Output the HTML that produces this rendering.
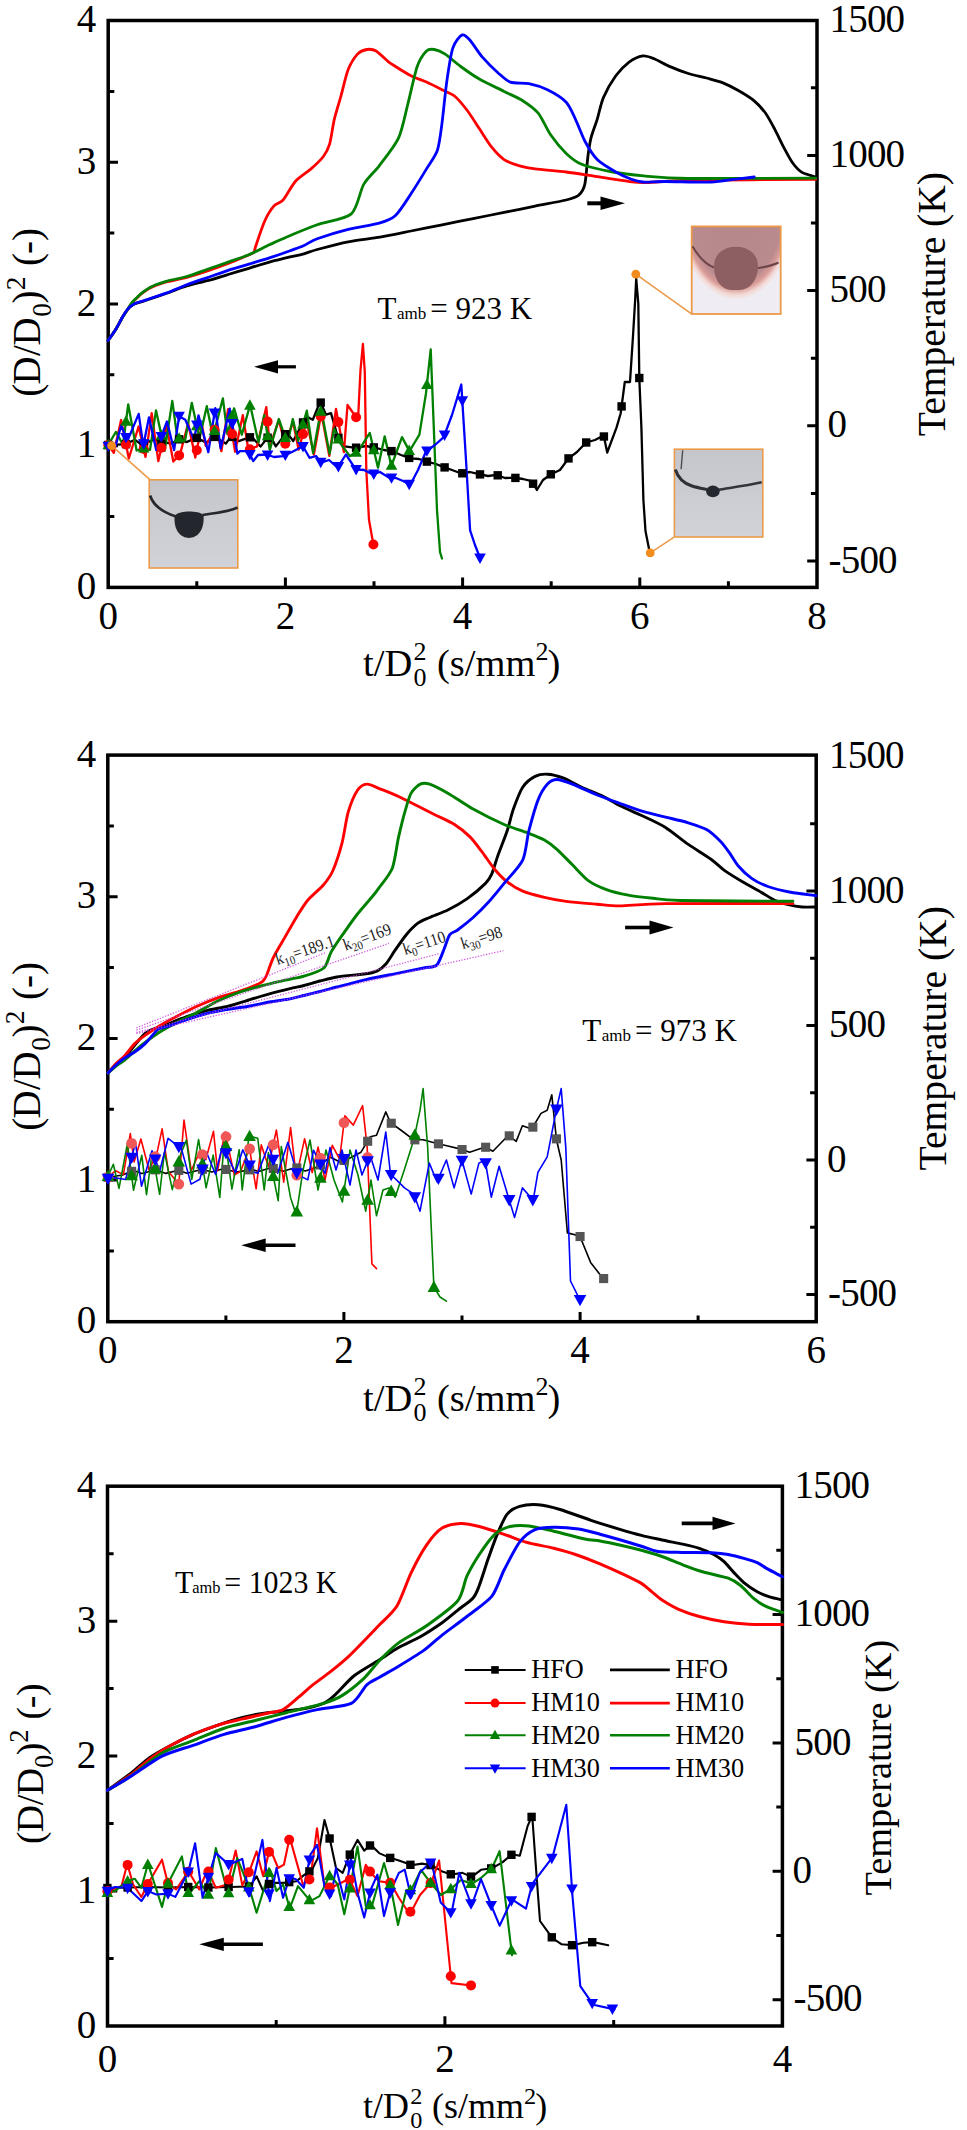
<!DOCTYPE html>
<html><head><meta charset="utf-8"><style>html,body{margin:0;padding:0;background:#fff;overflow:hidden}svg{display:block}</style></head><body>
<svg width="967" height="2130" viewBox="0 0 967 2130" font-family='"Liberation Serif", serif'>
<rect width="967" height="2130" fill="#fff"/>
<defs><linearGradient id="gg" x1="0" y1="0" x2="0" y2="1"><stop offset="0" stop-color="#c5c6cc"/><stop offset="1" stop-color="#d1d3d9"/></linearGradient><radialGradient id="pr" gradientUnits="userSpaceOnUse" cx="0" cy="0" r="1" gradientTransform="translate(736 205) scale(60 95)"><stop offset="0" stop-color="#b4878b"/><stop offset="0.8" stop-color="#b98a8e"/><stop offset="0.885" stop-color="#d99c98"/><stop offset="0.945" stop-color="#f3d8d4"/><stop offset="1" stop-color="#efedf3"/></radialGradient></defs>
<g stroke="#000" fill="none">
<rect x="108.2" y="20.5" width="708.8" height="566.9" stroke-width="3.5"/>
<path d="M108.2 516.5h6.1 M108.2 445.7h9.8 M108.2 374.8h6.1 M108.2 303.9h9.8 M108.2 233.1h6.1 M108.2 162.2h9.8 M108.2 91.4h6.1 M196.8 587.4v-6.1 M285.4 587.4v-9.8 M374 587.4v-6.1 M462.6 587.4v-9.8 M551.2 587.4v-6.1 M639.8 587.4v-9.8 M728.4 587.4v-6.1 M817 561h-9.8 M817 493.4h-6.1 M817 425.8h-9.8 M817 358.2h-6.1 M817 290.6h-9.8 M817 223h-6.1 M817 155.4h-9.8 M817 87.8h-6.1" stroke-width="3"/>
</g>
<text x="96.3" y="599" font-size="39" text-anchor="end" >0</text>
<text x="96.3" y="457.3" font-size="39" text-anchor="end" >1</text>
<text x="96.3" y="315.6" font-size="39" text-anchor="end" >2</text>
<text x="96.3" y="173.8" font-size="39" text-anchor="end" >3</text>
<text x="96.3" y="32.1" font-size="39" text-anchor="end" >4</text>
<text x="108.2" y="629.1" font-size="39" text-anchor="middle" >0</text>
<text x="285.4" y="629.1" font-size="39" text-anchor="middle" >2</text>
<text x="462.6" y="629.1" font-size="39" text-anchor="middle" >4</text>
<text x="639.8" y="629.1" font-size="39" text-anchor="middle" >6</text>
<text x="817" y="629.1" font-size="39" text-anchor="middle" >8</text>
<text x="829.5" y="31.8" font-size="39" text-anchor="start" letter-spacing="-0.8">1500</text>
<text x="829.5" y="167" font-size="39" text-anchor="start" letter-spacing="-0.8">1000</text>
<text x="829.5" y="302.2" font-size="39" text-anchor="start" letter-spacing="-0.8">500</text>
<text x="827.5" y="437.4" font-size="39" text-anchor="start" letter-spacing="-0.8">0</text>
<text x="828.5" y="572.6" font-size="39" text-anchor="start" letter-spacing="-0.8">-500</text>
<g transform="translate(40.2 395.7) rotate(-90)" font-size="39" text-anchor="middle">
<text x="5.5" y="0">(</text>
<text x="25.4" y="0">D</text>
<text x="45.2" y="0">/</text>
<text x="64.3" y="0">D</text>
<text x="85.8" y="10.3" font-size="27.3">0</text>
<text x="98.7" y="0">)</text>
<text x="112.4" y="-15.5" font-size="27.3">2</text>
<text x="136.3" y="0">(</text>
<text x="148.3" y="0">-</text>
<text x="161.2" y="0">)</text>
</g>
<text transform="translate(944.7 436.2) rotate(-90)" font-size="39.6">Temperature (K)</text>
<g transform="translate(363 676.4) scale(1 1)" font-size="38.5"><text x="0" y="0">t/D</text><text x="50.5" y="10" font-size="26">0</text><text x="50.5" y="-16" font-size="26">2</text><text x="74" y="0">(s/mm</text><text x="172.5" y="-16" font-size="26">2</text><text x="184.5" y="0">)</text></g>
<g stroke="#000" fill="none">
<rect x="107.8" y="755.1" width="708.4" height="566.6" stroke-width="3.5"/>
<path d="M107.8 1250.9h6.1 M107.8 1180h9.8 M107.8 1109.2h6.1 M107.8 1038.4h9.8 M107.8 967.6h6.1 M107.8 896.8h9.8 M107.8 825.9h6.1 M225.9 1321.7v-6.1 M343.9 1321.7v-9.8 M462 1321.7v-6.1 M580.1 1321.7v-9.8 M698.1 1321.7v-6.1 M816.2 1294.4h-9.8 M816.2 1227.2h-6.1 M816.2 1159.9h-9.8 M816.2 1092.7h-6.1 M816.2 1025.4h-9.8 M816.2 958.2h-6.1 M816.2 890.9h-9.8 M816.2 823.7h-6.1" stroke-width="3"/>
</g>
<text x="96.3" y="1333.3" font-size="39" text-anchor="end" >0</text>
<text x="96.3" y="1191.6" font-size="39" text-anchor="end" >1</text>
<text x="96.3" y="1050" font-size="39" text-anchor="end" >2</text>
<text x="96.3" y="908.4" font-size="39" text-anchor="end" >3</text>
<text x="96.3" y="766.7" font-size="39" text-anchor="end" >4</text>
<text x="107.8" y="1363.4" font-size="39" text-anchor="middle" >0</text>
<text x="343.9" y="1363.4" font-size="39" text-anchor="middle" >2</text>
<text x="580.1" y="1363.4" font-size="39" text-anchor="middle" >4</text>
<text x="816.2" y="1363.4" font-size="39" text-anchor="middle" >6</text>
<text x="829" y="768" font-size="39" text-anchor="start" letter-spacing="-0.8">1500</text>
<text x="829" y="902.5" font-size="39" text-anchor="start" letter-spacing="-0.8">1000</text>
<text x="829" y="1037" font-size="39" text-anchor="start" letter-spacing="-0.8">500</text>
<text x="827" y="1171.5" font-size="39" text-anchor="start" letter-spacing="-0.8">0</text>
<text x="828" y="1306" font-size="39" text-anchor="start" letter-spacing="-0.8">-500</text>
<g transform="translate(39.9 1129.8) rotate(-90)" font-size="39" text-anchor="middle">
<text x="5.5" y="0">(</text>
<text x="25.4" y="0">D</text>
<text x="45.2" y="0">/</text>
<text x="64.3" y="0">D</text>
<text x="85.8" y="10.3" font-size="27.3">0</text>
<text x="98.7" y="0">)</text>
<text x="112.4" y="-15.5" font-size="27.3">2</text>
<text x="136.3" y="0">(</text>
<text x="148.3" y="0">-</text>
<text x="161.2" y="0">)</text>
</g>
<text transform="translate(946.2 1170.4) rotate(-90)" font-size="39.6">Temperature (K)</text>
<g transform="translate(363 1410.7) scale(1 1)" font-size="38.5"><text x="0" y="0">t/D</text><text x="50.5" y="10" font-size="26">0</text><text x="50.5" y="-16" font-size="26">2</text><text x="74" y="0">(s/mm</text><text x="172.5" y="-16" font-size="26">2</text><text x="184.5" y="0">)</text></g>
<g stroke="#000" fill="none">
<rect x="107.5" y="1486.2" width="674.9" height="539.8" stroke-width="3.5"/>
<path d="M107.5 1958.5h6.1 M107.5 1891h9.8 M107.5 1823.6h6.1 M107.5 1756.1h9.8 M107.5 1688.6h6.1 M107.5 1621.2h9.8 M107.5 1553.7h6.1 M276.2 2026v-6.1 M444.9 2026v-9.8 M613.7 2026v-6.1 M782.4 1999.7h-9.8 M782.4 1935.5h-6.1 M782.4 1871.3h-9.8 M782.4 1807.1h-6.1 M782.4 1742.9h-9.8 M782.4 1678.7h-6.1 M782.4 1614.5h-9.8 M782.4 1550.3h-6.1" stroke-width="3"/>
</g>
<text x="96.3" y="2037.6" font-size="39" text-anchor="end" >0</text>
<text x="96.3" y="1902.6" font-size="39" text-anchor="end" >1</text>
<text x="96.3" y="1767.7" font-size="39" text-anchor="end" >2</text>
<text x="96.3" y="1632.8" font-size="39" text-anchor="end" >3</text>
<text x="96.3" y="1497.8" font-size="39" text-anchor="end" >4</text>
<text x="107.5" y="2072.3" font-size="39" text-anchor="middle" >0</text>
<text x="444.9" y="2072.3" font-size="39" text-anchor="middle" >2</text>
<text x="782.4" y="2072.3" font-size="39" text-anchor="middle" >4</text>
<text x="794.5" y="1497.7" font-size="39" text-anchor="start" letter-spacing="-0.8">1500</text>
<text x="794.5" y="1626.1" font-size="39" text-anchor="start" letter-spacing="-0.8">1000</text>
<text x="794.5" y="1754.5" font-size="39" text-anchor="start" letter-spacing="-0.8">500</text>
<text x="792.5" y="1882.9" font-size="39" text-anchor="start" letter-spacing="-0.8">0</text>
<text x="793.5" y="2011.3" font-size="39" text-anchor="start" letter-spacing="-0.8">-500</text>
<g transform="translate(43.3 1842.8) rotate(-90)" font-size="37.8" text-anchor="middle">
<text x="5.2" y="0">(</text>
<text x="24.1" y="0">D</text>
<text x="42.9" y="0">/</text>
<text x="61.1" y="0">D</text>
<text x="81.5" y="10" font-size="26.5">0</text>
<text x="93.8" y="0">)</text>
<text x="106.8" y="-15" font-size="26.5">2</text>
<text x="129.5" y="0">(</text>
<text x="140.9" y="0">-</text>
<text x="153.1" y="0">)</text>
</g>
<text transform="translate(890.7 1895.5) rotate(-90)" font-size="38.3">Temperature (K)</text>
<g transform="translate(363 2118.4) scale(0.934 0.925)" font-size="38.5"><text x="0" y="0">t/D</text><text x="50.5" y="10" font-size="26">0</text><text x="50.5" y="-16" font-size="26">2</text><text x="74" y="0">(s/mm</text><text x="172.5" y="-16" font-size="26">2</text><text x="184.5" y="0">)</text></g>
<path d="M108.1 340.5C109.2 339 114.1 332 116 329C117.9 326 120.7 320.3 122 318C123.3 315.7 124.9 313 126 311.5C127.1 310 128.8 307.8 130 306.8C131.2 305.8 133.7 304.4 135 303.8C136.3 303.2 138.6 302.6 140 302.2C141.4 301.8 141.9 301.7 145.4 300.5C148.9 299.3 160.6 295.4 166.1 293.5C171.6 291.6 181.2 287.7 186.7 286C192.2 284.3 201.9 282.2 207.4 280.7C212.9 279.2 222.6 276.2 228.1 274.5C233.6 272.8 243.3 270 248.8 268.3C254.3 266.6 263.9 263.6 269.4 262.1C274.9 260.6 285.5 258 290.1 256.9C294.7 255.8 300.4 254.8 304 253.8C307.6 252.8 311.3 251.1 317.2 249.5C323.1 247.9 339.8 243.4 348.2 241.8C356.6 240.2 371.6 238.6 380 237.2C388.4 235.8 402.7 232.7 411 231C419.3 229.3 433.8 226.5 442.1 224.8C450.4 223.1 464.8 220.3 473.1 218.6C481.4 216.9 495.8 214.1 504.1 212.4C512.4 210.7 526.8 207.9 535.1 206.2C543.4 204.5 560.4 201.5 566.2 200C572 198.5 576.1 197.4 578.6 195.3C581.1 193.2 583.6 189.6 584.8 184.4C586 179.2 587.1 162.7 587.9 156.5C588.7 150.3 589.8 142.9 591 137.9C592.2 132.9 595.5 124.7 597.2 119.3C598.9 113.9 600.9 103.4 603.4 97.6C605.9 91.8 612.4 80.5 615.8 75.8C619.2 71.1 625.5 64.8 629.1 62.1C632.7 59.4 639.5 56.4 642.8 55.9C646.1 55.4 650.5 57.3 654.1 58.7C657.7 60.1 665.5 64.6 670.1 66.6C674.7 68.6 683.4 72 688.3 73.5C693.2 75 702 76.8 706.5 78C711 79.2 718.2 80.9 722.4 82.6C726.6 84.3 734.1 88.1 738.3 90.5C742.5 92.9 750.6 97.8 754.2 100.8C757.8 103.8 762.9 109.5 765.6 113.3C768.3 117.1 772.3 124.7 774.7 129.2C777.1 133.7 781.4 142.9 783.8 147.4C786.2 151.9 790.5 160 792.9 163.3C795.3 166.6 799 170.6 802 172.4C805 174.2 813.9 176.4 815.7 177" fill="none" stroke="#000" stroke-width="2.8" stroke-linejoin="round" stroke-linecap="round"/>
<path d="M108.1 340.5C109.2 339 114.1 332 116 329C117.9 326 120.7 320.3 122 318C123.3 315.7 125 313.5 126 312C127 310.5 128.6 307.9 129.5 306.5C130.4 305.1 132 303 133 301.8C134 300.6 136 298.8 137.1 297.8C138.2 296.8 139.9 294.9 141 294C142.1 293.1 144.2 291.6 145.4 290.8C146.6 290 148.6 288.7 150 288C151.4 287.3 153.6 286.3 155.7 285.5C157.8 284.7 162 283.1 166.1 282C170.2 280.9 181.2 279 186.7 277.5C192.2 276 201.9 272.9 207.4 271C212.9 269.1 223.1 265.4 228.1 263.5C233.1 261.6 241.6 258 245 256.5C248.4 255 252.2 253.8 253.6 252.5C255 251.2 254.2 250.6 255.6 246.5C257 242.4 262 227.1 264.4 221.7C266.8 216.3 271.3 209.1 273.8 206.2C276.3 203.3 280.2 203.3 283.1 200C286 196.7 291.8 185.4 295.5 181.3C299.2 177.2 307.3 172.2 311 168.9C314.7 165.6 320.9 159.8 323.4 156.5C325.9 153.2 328.1 149.1 329.6 144.1C331.1 139.1 332.8 125.5 334.3 119.3C335.8 113.1 338.6 104.2 340.5 97.6C342.4 91 345.9 75.4 348.2 69.6C350.5 63.8 355 56.8 357.5 54.1C360 51.4 364.3 49.9 366.8 49.5C369.3 49.1 373.2 49.3 376.1 51C379 52.7 385.9 59.8 388.5 61.9C391.1 64 392.5 64.6 395.5 66.5C398.5 68.4 406.9 73.7 411 75.8C415.1 77.9 422.4 80.2 426.5 82.1C430.6 84 438.3 87.9 442 89.8C445.7 91.7 451.2 93.3 454.5 96C457.8 98.7 463.6 105.7 466.9 110C470.2 114.3 476 123.6 479.3 128.6C482.6 133.6 488.4 143.1 491.7 147.2C495 151.3 500.4 157.1 504.1 159.6C507.8 162.1 515.5 164.6 519.6 165.8C523.7 167 528.9 168.1 535.1 168.9C541.3 169.7 557.9 171 566.2 172C574.5 173 588.9 175.5 597.2 176.7C605.5 177.9 622 180.5 628.2 181.3C634.4 182.1 635.7 182.8 643.7 182.7C651.7 182.6 665.4 180.9 688.3 180.4C711.2 179.9 798.7 179.4 815.7 179.3" fill="none" stroke="#f00" stroke-width="2.8" stroke-linejoin="round" stroke-linecap="round"/>
<path d="M108.1 340.5C109.2 339 114.1 332 116 329C117.9 326 120.7 320.3 122 318C123.3 315.7 125 313.6 126 312C127 310.4 128.6 307.7 129.5 306.3C130.4 304.9 132 302.7 133 301.5C134 300.3 136 298.5 137.1 297.4C138.2 296.3 139.9 294.5 141 293.6C142.1 292.7 144.2 291.1 145.4 290.3C146.6 289.5 148.6 288.2 150 287.5C151.4 286.8 153.6 285.6 155.7 284.8C157.8 284 162 282.4 166.1 281.3C170.2 280.2 181.2 278.1 186.7 276.5C192.2 274.9 201.9 271.2 207.4 269.3C212.9 267.4 222.6 264 228.1 262.1C233.6 260.2 243.3 257.1 248.8 254.8C254.3 252.5 264.4 247.1 269.4 244.8C274.4 242.5 279.8 239.9 286.2 237.2C292.6 234.5 308.5 227.9 317.2 224.8C325.9 221.7 345.1 219.3 351.3 213.9C357.5 208.5 360 190.8 363.7 184.4C367.4 178 374.5 172 379.2 165.8C383.9 159.6 394.8 146.2 398.6 137.9C402.4 129.6 405.4 113.3 407.9 103.8C410.4 94.3 414.7 73.5 417.2 66.5C419.7 59.5 424.2 53.3 426.5 51C428.8 48.7 431.8 49.1 434.3 49.5C436.8 49.9 441.7 51.8 445.2 54.1C448.7 56.4 456.2 63.2 460.7 66.5C465.2 69.8 473.5 75.7 479.3 79C485.1 82.3 498.3 88.5 504.1 91.4C509.9 94.3 518.2 97.8 522.7 100.7C527.2 103.6 534.5 108.6 538.2 113.1C541.9 117.6 546.9 129.4 550.6 134.8C554.3 140.2 562.1 149.5 566.2 153.4C570.3 157.3 575.5 161.8 581.7 164.3C587.9 166.8 604.4 170.5 612.7 172C621 173.5 633.6 175 643.7 175.9C653.8 176.8 665.4 178.2 688.3 178.5C711.2 178.8 798.7 178.2 815.7 178.1" fill="none" stroke="#008000" stroke-width="2.8" stroke-linejoin="round" stroke-linecap="round"/>
<path d="M108.1 340.5C109.2 339 114.1 332 116 329C117.9 326 120.7 320.3 122 318C123.3 315.7 124.9 313 126 311.5C127.1 310 128.8 307.9 130 306.8C131.2 305.7 133.7 304.3 135 303.6C136.3 302.9 138.6 302.3 140 301.8C141.4 301.3 141.9 301.3 145.4 300.1C148.9 298.9 160.6 295.1 166.1 293.1C171.6 291.1 181.2 286.9 186.7 284.8C192.2 282.7 201.9 279.5 207.4 277.6C212.9 275.7 222.6 272.1 228.1 270.3C233.6 268.5 243.3 265.8 248.8 264.1C254.3 262.4 263.9 259.7 269.4 257.9C274.9 256.1 285.5 252.4 290.1 250.7C294.7 249 300.4 247.1 304 245.5C307.6 243.9 311.3 240.8 317.2 238.7C323.1 236.6 339.9 231.5 348.2 229.4C356.5 227.3 372.9 225.1 379.2 223.2C385.5 221.3 391.3 219.4 395.5 215.5C399.7 211.6 406.9 200 411 193.8C415.1 187.6 423 174.7 426.5 168.9C430 163.1 435.3 156.5 437.4 150.3C439.5 144.1 440.9 131.5 442.1 122.4C443.3 113.3 445.3 92 446.7 82.1C448.1 72.2 450.8 54.2 452.9 47.9C455 41.6 459.9 35.9 462.2 34.9C464.5 33.9 467.3 37.2 470 40.2C472.7 43.2 478.7 52.9 482.4 57.2C486.1 61.5 494.2 69.4 497.9 72.7C501.6 76 506.2 80.6 510.3 82.1C514.4 83.6 523.9 82.6 528.9 83.6C533.9 84.6 542.5 87.3 547.5 89.8C552.5 92.3 562.5 98.3 566.2 102.2C569.9 106.1 573 114.1 575.5 119.3C578 124.5 581.9 135.6 584.8 141C587.7 146.4 593.1 155.5 597.2 159.6C601.3 163.7 611.2 169.4 615.8 172C620.4 174.6 627.8 178 631.4 179.3C635 180.6 638.3 181.7 642.8 182C647.3 182.3 656.4 181.5 665.5 181.5C674.6 181.5 701.9 182.3 711 182C720.1 181.7 728 180 733.8 179.3C739.6 178.6 751.5 177.3 754.2 177" fill="none" stroke="#00f" stroke-width="2.8" stroke-linejoin="round" stroke-linecap="round"/>
<path d="M108 1073C109.1 1071.9 113.8 1067 116 1065C118.2 1063 120.8 1062.2 124.7 1057.9C128.6 1053.6 139.9 1037.5 145.4 1033.1C150.9 1028.7 160.5 1027 166 1024.8C171.5 1022.6 181.2 1018.4 186.7 1016.5C192.2 1014.6 201.9 1011.7 207.4 1010.3C212.9 1008.9 222.6 1007.6 228.1 1006.2C233.6 1004.8 243.3 1001.7 248.8 1000C254.3 998.3 264 995.3 269.5 993.8C275 992.3 285.5 989.7 290.1 988.6C294.7 987.5 300 986.5 304 985.5C308 984.5 315.6 982.1 320 981C324.4 979.9 330.8 978 336.9 977C343 976 360.4 974.6 365.8 973.8C371.2 973 374.7 972.2 377.4 970.9C380.1 969.6 383.8 966.4 386.1 963.7C388.4 961 392.1 954.6 394.8 950.7C397.5 946.8 403.2 938.4 406.3 934.7C409.4 931 414.8 925.5 417.9 923.2C421 920.9 425.5 919.3 429.6 917.5C433.7 915.7 443.3 912.3 448.3 909.8C453.3 907.3 461.9 902.4 466.9 898.9C471.9 895.4 482.2 886.7 485.5 883.4C488.8 880.1 490 877.8 491.7 874.1C493.4 870.4 495.8 861.3 497.9 855.5C500 849.7 505.1 836.9 507.2 830.7C509.3 824.5 511.3 814.8 513.4 809C515.5 803.2 519.8 791.5 522.7 787.2C525.6 782.9 531.8 778.1 535.1 776.4C538.4 774.7 543.8 774 547.5 774.2C551.2 774.4 558.5 776.2 563.1 777.9C567.7 779.6 576.3 784.7 581.7 787.2C587.1 789.7 598.3 794 603.4 796.5C608.5 799 614.7 803.1 620 805.7C625.3 808.3 636.7 813.1 642.8 816C648.9 818.9 659.4 823.6 665.5 827.4C671.6 831.2 682.2 840.2 688.3 844.4C694.4 848.6 706.1 855.7 711 859.2C715.9 862.7 720.4 867.6 724.7 870.6C729 873.6 738 879.1 742.9 882C747.8 884.9 756.9 889.8 761.1 892.2C765.3 894.6 771.1 898.5 774.7 900.2C778.3 901.9 784.8 903.8 788.4 904.7C792 905.6 798.3 906.7 802 907C805.7 907.3 814.1 907 816 907" fill="none" stroke="#000" stroke-width="2.9" stroke-linejoin="round" stroke-linecap="round"/>
<path d="M108 1073C109.1 1071.7 113.8 1065.8 116 1063.5C118.2 1061.2 122.2 1058.5 124.7 1055.8C127.2 1053.1 132.2 1046.2 135 1043.4C137.8 1040.6 142.1 1037.4 145.4 1035.1C148.7 1032.8 155.7 1028.3 159.8 1025.8C163.9 1023.3 171.4 1019.1 176.4 1016.5C181.4 1013.9 191.6 1008.7 197.1 1006.2C202.6 1003.7 212.3 999.8 217.8 997.9C223.3 996 233.3 993.4 238.4 991.7C243.5 990 252.8 986.4 256 985C259.2 983.6 261.1 982.8 262.5 981.5C263.9 980.2 265.1 978.6 266.5 975.5C267.9 972.4 270.8 963 273.2 957.9C275.6 952.8 281.6 943 284.7 937.6C287.8 932.2 293.2 922.4 296.3 917.4C299.4 912.4 304.3 904.3 307.9 900C311.5 895.7 320.1 888.9 323.4 885C326.7 881.1 330.2 876.6 332.7 871C335.2 865.4 339.9 851 342 843.1C344.1 835.2 346.1 819.1 348.2 812.1C350.3 805.1 355 794 357.5 790.3C360 786.6 363.8 784.3 366.8 784.1C369.8 783.9 375.8 787.1 380 788.8C384.2 790.5 393.6 794.2 398.6 796.5C403.6 798.8 412.2 803.3 417.2 805.8C422.2 808.3 430.8 812.7 435.8 815.2C440.8 817.7 449.9 821.6 454.5 824.5C459.1 827.4 466.3 833.2 470 836.9C473.7 840.6 479.1 848.1 482.4 852.4C485.7 856.7 491.5 865.6 494.8 869.5C498.1 873.4 503.5 879 507.2 881.9C510.9 884.8 517.7 889.1 522.7 891.2C527.7 893.3 538.6 896 544.4 897.4C550.2 898.8 559.2 900.5 566.2 901.4C573.2 902.3 590 903.6 597.2 904.2C604.4 904.8 610.9 906 620 905.9C629.1 905.8 642.4 903.9 665.5 903.6C688.6 903.3 775.9 903.6 792.9 903.6" fill="none" stroke="#f00" stroke-width="2.9" stroke-linejoin="round" stroke-linecap="round"/>
<path d="M108 1073C109.1 1072.1 113.8 1067.7 116 1066C118.2 1064.3 121.3 1062.7 124.7 1060C128.1 1057.3 136.5 1049.2 141.2 1045.5C145.9 1041.8 155.1 1035 159.8 1032C164.5 1029 171.4 1025.3 176.4 1022.7C181.4 1020.1 191.6 1015.3 197.1 1012.4C202.6 1009.5 212.3 1003.6 217.8 1001C223.3 998.4 232.9 994.6 238.4 992.7C243.9 990.8 253.6 988 259.1 986.5C264.6 985 273.8 982.8 279.8 981.4C285.8 980 298.1 978 304 976.2C309.9 974.4 320.2 971.2 323.8 968C327.4 964.8 328.6 956.5 331.1 952.1C333.6 947.7 339.1 939.7 342.6 934.7C346.1 929.7 353 919.7 357.1 914.5C361.2 909.3 369.9 899.5 373 895.8C376.1 892.1 377.4 890.2 380 886.5C382.6 882.8 389.9 874.5 392.4 867.9C394.9 861.3 396.9 844.3 398.6 836.9C400.3 829.5 403.1 817.9 404.8 812.1C406.5 806.3 408.9 797.1 411 793.4C413.1 789.7 417.8 785.3 420.3 784.1C422.8 782.9 425.9 782.9 429.6 784.1C433.3 785.3 442.5 790.1 448.3 793.4C454.1 796.7 465.7 804.9 473.1 809C480.5 813.1 497.1 821.4 504.1 824.5C511.1 827.6 520.4 830.1 525.8 832.2C531.2 834.3 540.3 837.7 544.4 840C548.5 842.3 553.2 846 556.9 849.3C560.6 852.6 568.3 860.7 572.4 864.8C576.5 868.9 583.4 877 587.9 880.3C592.4 883.6 601.1 887.6 606.5 889.6C611.9 891.6 622 894 628.2 895.2C634.4 896.4 646.1 897.6 653 898.3C659.9 899 661.3 900.1 680 900.5C698.7 900.9 777.8 901.2 792.9 901.3" fill="none" stroke="#008000" stroke-width="2.9" stroke-linejoin="round" stroke-linecap="round"/>
<path d="M108 1073C109.1 1071.9 113.8 1067 116 1065C118.2 1063 122.2 1059.7 124.7 1057.9C127.2 1056.1 132.2 1053.6 135 1051.7C137.8 1049.8 142.4 1046.4 145.4 1043.4C148.4 1040.4 155.1 1031.7 157.8 1029.5C160.5 1027.3 162.1 1028.2 166 1026.9C169.9 1025.6 181.2 1021.4 186.7 1019.6C192.2 1017.8 201.9 1014.8 207.4 1013.4C212.9 1012 222.6 1010.3 228.1 1009.3C233.6 1008.3 243.3 1007.2 248.8 1006.2C254.3 1005.2 264 1003 269.5 1002C275 1001 285.5 999.8 290.1 998.9C294.7 998 300 996.5 304 995.5C308 994.5 315.6 992.6 320 991.5C324.4 990.4 330.8 988.6 336.9 987C343 985.4 358.1 981.4 365.8 979.6C373.5 977.8 387.1 975.3 394.8 973.8C402.5 972.3 418.1 969.2 423.7 968C429.3 966.8 434 967.6 436.7 965.1C439.4 962.6 442.3 953.3 444 949.2C445.7 945.1 448 937.3 449.8 934.7C451.6 932.1 454.5 932.3 457.6 930C460.7 927.7 469 921.2 473.1 917.5C477.2 913.8 484.5 906.5 488.6 902C492.7 897.5 499.6 889 504.1 883.4C508.6 877.8 519.4 867.1 522.7 860.1C526 853.1 526.8 838.8 528.9 830.7C531 822.6 535.7 805.8 538.2 799.6C540.7 793.4 545 786.8 547.5 784.1C550 781.4 553.6 779.5 556.9 779.5C560.2 779.5 567 782 572.4 784.1C577.8 786.2 590.9 792.4 597.2 795C603.5 797.6 613.9 801.3 620 803.5C626.1 805.7 636.7 809.6 642.8 811.4C648.9 813.2 659.4 815.6 665.5 817.1C671.6 818.6 682.8 821.1 688.3 822.8C693.8 824.5 702.3 827.2 706.5 829.6C710.7 832 717.1 838 720.1 841C723.1 844 726.8 849.1 729.2 852.4C731.6 855.7 735.3 862.5 738.3 866C741.3 869.5 748.1 875.9 752 878.6C755.9 881.3 762.8 884.7 767.9 886.5C773 888.3 784.2 891 790.6 892.2C797 893.4 812.6 895.1 816 895.6" fill="none" stroke="#00f" stroke-width="2.9" stroke-linejoin="round" stroke-linecap="round"/>
<path d="M107.5 1790.3C110.6 1788 125.4 1777.5 131 1773.2C136.6 1768.9 144.6 1761.2 149.6 1757.7C154.6 1754.2 162.5 1749.9 168.3 1746.8C174.1 1743.7 186.5 1737.3 193.1 1734.4C199.7 1731.5 211.3 1727.4 217.9 1725.1C224.5 1722.8 236.1 1719.1 242.7 1717.4C249.3 1715.7 260 1713.7 267.5 1712.7C275 1711.7 291.1 1710.8 298.6 1709.6C306.1 1708.4 318.4 1705.5 323.4 1703.4C328.4 1701.3 331.7 1697.8 335.8 1694.1C339.9 1690.4 348.6 1680 354.4 1675.5C360.2 1671 373.3 1663.7 379.2 1660C385.1 1656.3 393.1 1650.6 398.6 1647.5C404.1 1644.4 414.5 1640 420.3 1636.7C426.1 1633.4 437.1 1626.2 442.1 1622.7C447.1 1619.2 453.5 1613.6 457.6 1610.3C461.7 1607 470.2 1601.2 473.1 1597.9C476 1594.6 477.2 1590.9 479.3 1585.5C481.4 1580.1 486.1 1564.6 488.6 1557.6C491.1 1550.6 495.4 1538.5 497.9 1532.7C500.4 1526.9 504.3 1517.6 507.2 1514.1C510.1 1510.6 515.5 1507.6 519.6 1506.4C523.7 1505.2 532.8 1504.4 538.2 1504.8C543.6 1505.2 553 1507.4 560 1509.5C567 1511.6 582.9 1517.6 591 1520.3C599.1 1523 614 1527.6 620.7 1529.6C627.4 1531.6 635.9 1534 641.4 1535.4C646.9 1536.8 656.5 1538.8 662 1540C667.5 1541.2 677.7 1543 682.7 1544.1C687.7 1545.2 695.2 1546.9 699.3 1548.3C703.4 1549.7 710.5 1552.7 713.8 1554.5C717.1 1556.3 721.4 1559.2 724.1 1561.7C726.8 1564.2 731.6 1570.2 734.4 1573.1C737.2 1576 741.8 1580.9 744.8 1583.4C747.8 1585.9 753.9 1589.9 757.2 1591.7C760.5 1593.5 766.2 1595.8 769.6 1596.9C773 1598 780.7 1599.6 782.4 1600" fill="none" stroke="#000" stroke-width="3.0" stroke-linejoin="round" stroke-linecap="round"/>
<path d="M107.5 1790.3C110.6 1788.2 125.4 1778.9 131 1774.8C136.6 1770.7 144.6 1762.9 149.6 1759.2C154.6 1755.5 162.5 1750.1 168.3 1746.8C174.1 1743.5 186.5 1737.3 193.1 1734.4C199.7 1731.5 211.3 1727.2 217.9 1725.1C224.5 1723 236.1 1720.5 242.7 1718.9C249.3 1717.3 262.1 1714.5 267.5 1713.3C272.9 1712.1 279 1711.7 283.1 1709.6C287.2 1707.5 294.9 1700.3 298.6 1697.2C302.3 1694.1 306.9 1689.6 311 1686.3C315.1 1683 324.6 1676.3 329.6 1672.4C334.6 1668.5 343.7 1661 348.2 1656.9C352.7 1652.8 359.5 1645.6 363.7 1641.3C367.9 1637 375.5 1629 380 1624.3C384.5 1619.6 393 1612.5 397.1 1605.7C401.2 1598.9 407.1 1581.2 411 1573.1C414.9 1565 422.4 1551.2 426.5 1545.2C430.6 1539.2 437.5 1531 442.1 1528.1C446.7 1525.2 455.7 1523.6 460.7 1523.4C465.7 1523.2 473.5 1525 479.3 1526.5C485.1 1528 497.9 1532.2 504.1 1534.3C510.3 1536.4 519.2 1540.2 525.8 1542.1C532.4 1544 547.2 1546.6 553.8 1548.3C560.4 1550 569.3 1552.4 575.5 1554.5C581.7 1556.6 594 1561.3 600 1563.8C606 1566.3 615.2 1570.5 620.7 1573.1C626.2 1575.7 637.3 1580.9 641.4 1583.4C645.5 1585.9 649 1589.5 651.7 1591.7C654.4 1593.9 658.4 1597.7 662 1600C665.6 1602.3 673.6 1607.1 678.6 1609.3C683.6 1611.5 693.2 1614.8 699.3 1616.5C705.4 1618.2 717.5 1620.7 724.1 1621.7C730.7 1622.7 741.1 1623.8 748.9 1624.2C756.7 1624.6 777.9 1624.4 782.4 1624.4" fill="none" stroke="#f00" stroke-width="3.0" stroke-linejoin="round" stroke-linecap="round"/>
<path d="M107.5 1790.3C110.6 1788.4 123.7 1781 131 1776C138.3 1771 153.8 1757.7 162.1 1753C170.4 1748.3 184.8 1743.9 193.1 1740.6C201.4 1737.3 215.8 1730.9 224.1 1728.2C232.4 1725.5 246.8 1722.6 255.1 1720.5C263.4 1718.4 277.1 1715 286.2 1712.7C295.3 1710.4 316 1705.7 323.4 1703.4C330.8 1701.1 336.6 1698.9 342 1695.6C347.4 1692.3 358.6 1683.3 363.7 1678.6C368.8 1673.9 375.3 1664.8 380 1660C384.7 1655.2 392.4 1647.5 398.6 1642.9C404.8 1638.3 418.6 1631.4 426.5 1625.8C434.4 1620.2 452.2 1607.6 457.6 1601C463 1594.4 464 1582.4 466.9 1576.2C469.8 1570 475.6 1560.1 479.3 1554.5C483 1548.9 490.7 1538 494.8 1534.3C498.9 1530.6 505.8 1527.6 510.3 1526.5C514.8 1525.4 523.1 1525.3 528.9 1525.9C534.7 1526.5 546.3 1529.5 553.8 1531.2C561.3 1532.9 578.6 1537.7 584.8 1539C591 1540.3 595.2 1540.2 600 1541C604.8 1541.8 615.2 1544 620.7 1545.2C626.2 1546.4 635.9 1548.8 641.4 1550.3C646.9 1551.8 656.5 1554.6 662 1556.5C667.5 1558.4 677.2 1562.7 682.7 1564.8C688.2 1566.9 697.3 1570.2 703.4 1572C709.5 1573.8 723.2 1576.4 728.2 1578.2C733.2 1580 737.3 1582.9 740.6 1585.5C743.9 1588.1 749.7 1595.1 753 1597.9C756.3 1600.7 761.6 1604.3 765.5 1606.2C769.4 1608.1 780.1 1611.6 782.4 1612.4" fill="none" stroke="#008000" stroke-width="3.0" stroke-linejoin="round" stroke-linecap="round"/>
<path d="M107.5 1790.3C110.6 1788.4 123.7 1780.9 131 1776.3C138.3 1771.7 153.8 1760.2 162.1 1756.1C170.4 1752 184.8 1748.2 193.1 1745.3C201.4 1742.4 215.8 1736.9 224.1 1734.4C232.4 1731.9 246.8 1729 255.1 1726.7C263.4 1724.4 277.9 1719.7 286.2 1717.4C294.5 1715.1 308.5 1711.5 317.2 1709.6C325.9 1707.7 344.7 1706.7 351.3 1703.4C357.9 1700.1 363 1688.3 366.8 1684.8C370.6 1681.3 375.8 1679.5 380 1677C384.2 1674.5 392.8 1669.7 398.6 1666.2C404.4 1662.7 417.6 1654.7 423.4 1650.6C429.2 1646.5 436.3 1639.6 442.1 1635.1C447.9 1630.6 460.3 1621.7 466.9 1616.5C473.5 1611.3 486.7 1602.6 491.7 1596.4C496.7 1590.2 500.4 1577.2 504.1 1570C507.8 1562.8 515.5 1547.5 519.6 1542.1C523.7 1536.7 530.5 1531.6 535.1 1529.6C539.7 1527.6 548 1527.3 553.8 1527.2C559.6 1527.1 572.4 1528.1 578.6 1529C584.8 1529.9 594.4 1532.7 600 1534.2C605.6 1535.7 615.2 1538.4 620.7 1540C626.2 1541.6 636.4 1544.7 641.4 1546.2C646.4 1547.7 652.4 1550.6 657.9 1551.4C663.4 1552.2 675.5 1552.2 682.7 1552.4C689.9 1552.6 705.6 1552.5 711.7 1552.8C717.8 1553.1 723.8 1553.7 728.2 1554.5C732.6 1555.3 740.9 1557.5 744.8 1558.6C748.7 1559.7 754.2 1561.3 757.2 1562.7C760.2 1564.1 764.1 1567 767.5 1568.9C770.9 1570.8 780.4 1575.7 782.4 1576.8" fill="none" stroke="#00f" stroke-width="3.0" stroke-linejoin="round" stroke-linecap="round"/>
<polyline points="108.2,445 117.4,444.6 125.9,444.1 134.8,439.7 141.4,444.7 154.1,439.6 163.9,442.2 170.8,443.7 179.2,439.3 186.5,442.1 196.4,437.7 206.3,442.6 214.2,436.7 225.9,443.6 231.1,436.2 238.7,441.2 251.6,436.7 260.5,446.6 269.7,435.1 275.8,446.4 286.7,432.4 293.2,441 306.2,416.4 312.8,419.7 320.2,401.5 326,414.7 331,413.1 337.6,436.3 342.6,446.2 355.8,447.8 366,446 375.7,447.8 384,450 392.7,451.3 401,455 410.3,458.3 419,459 427.9,461.9 436,464 443.7,467.1 452,470 461.3,473.5 470,472 478.9,474.2 488,476 496.5,474.9 505,478 514,477.7 523,479 531.6,481.2 536.9,490 543,480 551,474.2 560,470 568.6,458.3 577,452 586.1,442.5 595,440 603.7,435.5 607.2,452.5 616.5,427.6 620.7,413.2 624.8,382 630,382 633.1,334.5 635.2,299.3 636.2,278.6 638.3,303.5 639.3,378 641.4,427.6 643.4,500 645.5,531.1 649.6,551.8" fill="none" stroke="#000" stroke-width="2.3" stroke-linejoin="round" stroke-linecap="round" />
<polyline points="108.2,445 113.8,452.8 121.1,420 128.8,458.5 138.6,426.5 145.5,456.9 151.7,413.1 158.3,461.2 166.5,425.7 173.3,461.5 180,454.4 188.2,423.4 195.3,457.5 201.9,424.7 205.7,445.9 216.5,426 221.4,451.2 228.1,409.2 235.1,451.7 242.8,415.2 248.4,449.9 257,446.4 266.3,407.1 269.8,446.5 278.8,420.1 285.1,444.4 293,421.8 298.6,449.6 306.6,421.3 313.9,454.6 321.3,413.1 329.3,455.8 336,409 343.9,452.1 347.5,405 358,420 360.5,370 362.9,344 364.8,372 366.3,470 369,520 373.4,544.5" fill="none" stroke="#f00" stroke-width="2.3" stroke-linejoin="round" stroke-linecap="round" />
<polyline points="108.2,445 115.9,431.9 123,444.8 128.2,404.3 136.6,450.5 143.5,448.2 150,449.8 156,410.3 164.7,450.8 172.3,400.8 177.3,437.6 185.1,440.4 191.8,402.8 199.5,438.5 206.8,406.2 213,436.4 222.9,398.4 227.4,434.2 234.1,408.3 241.8,434.7 250.1,404.7 258.5,442.4 264.3,415.1 269.8,450 278.8,419 287.4,443.7 292.8,419 298.1,441 306.8,410.7 313.1,453.2 321.1,409 329.6,453.8 334.1,428.6 340,442.9 349.9,456.1 358.2,451.1 369.8,432.9 378,467.7 384.7,436.3 391.3,466 402,437.1 409.5,451.1 419.4,434.6 426,393.2 430.7,349.3 433.5,420 437,510 440,552 442,558.5" fill="none" stroke="#008000" stroke-width="2.3" stroke-linejoin="round" stroke-linecap="round" />
<polyline points="108.2,446 115.5,446.1 121.2,425.5 127.4,440.9 138.7,413.9 143.3,445.7 149,417.3 156.2,450 167,421.5 174.1,450.2 179.1,416.2 185.3,419.8 194.1,439.7 198.5,415.3 208.3,452.2 215.3,408.1 220.7,448.6 229.7,408.7 237.4,453.7 240,451.1 248.3,451.1 253.2,461 258,455 266.5,454.5 274,457 283,456.1 292,452 302.9,446.2 309.5,457.8 316,456 321.1,462.7 329,460 337.6,467.7 345.9,454.5 355.8,469.3 364,470 372.4,474.3 380,472 388.9,477.6 396,478 403,481 410.3,484.7 418,470 426.1,451.3 435,445 443.7,437.2 452,415 461.3,384.5 466,460 470.1,530.4 475,545 480,557.8" fill="none" stroke="#00f" stroke-width="2.3" stroke-linejoin="round" stroke-linecap="round" />
<rect x="104.1" y="440.8" width="8.4" height="8.4" fill="#000"/>
<rect x="121.8" y="439.9" width="8.4" height="8.4" fill="#000"/>
<rect x="139.5" y="439.6" width="8.4" height="8.4" fill="#000"/>
<rect x="157.2" y="437.4" width="8.4" height="8.4" fill="#000"/>
<rect x="174.9" y="435.1" width="8.4" height="8.4" fill="#000"/>
<rect x="192.6" y="433.7" width="8.4" height="8.4" fill="#000"/>
<rect x="210.3" y="432.7" width="8.4" height="8.4" fill="#000"/>
<rect x="228" y="432.7" width="8.4" height="8.4" fill="#000"/>
<rect x="245.7" y="433.1" width="8.4" height="8.4" fill="#000"/>
<rect x="263.4" y="433.5" width="8.4" height="8.4" fill="#000"/>
<rect x="281.1" y="430" width="8.4" height="8.4" fill="#000"/>
<rect x="298.8" y="418.2" width="8.4" height="8.4" fill="#000"/>
<rect x="316.5" y="398.4" width="8.4" height="8.4" fill="#000"/>
<rect x="334.2" y="433.7" width="8.4" height="8.4" fill="#000"/>
<rect x="351.9" y="443.5" width="8.4" height="8.4" fill="#000"/>
<rect x="369.6" y="443.2" width="8.4" height="8.4" fill="#000"/>
<rect x="387.3" y="446.9" width="8.4" height="8.4" fill="#000"/>
<rect x="405" y="453.7" width="8.4" height="8.4" fill="#000"/>
<rect x="422.7" y="457.4" width="8.4" height="8.4" fill="#000"/>
<rect x="440.4" y="463.2" width="8.4" height="8.4" fill="#000"/>
<rect x="458.1" y="469.1" width="8.4" height="8.4" fill="#000"/>
<rect x="475.8" y="470.2" width="8.4" height="8.4" fill="#000"/>
<rect x="493.5" y="471.1" width="8.4" height="8.4" fill="#000"/>
<rect x="511.2" y="473.7" width="8.4" height="8.4" fill="#000"/>
<rect x="528.9" y="479.5" width="8.4" height="8.4" fill="#000"/>
<rect x="546.6" y="470.1" width="8.4" height="8.4" fill="#000"/>
<rect x="564.3" y="454.2" width="8.4" height="8.4" fill="#000"/>
<rect x="582" y="438.3" width="8.4" height="8.4" fill="#000"/>
<rect x="599.7" y="432.3" width="8.4" height="8.4" fill="#000"/>
<rect x="617.4" y="402.2" width="8.4" height="8.4" fill="#000"/>
<rect x="635.1" y="373.8" width="8.4" height="8.4" fill="#000"/>
<circle cx="108.3" cy="445.1" r="5" fill="#f00"/>
<circle cx="126" cy="444.5" r="5" fill="#f00"/>
<circle cx="143.7" cy="448.9" r="5" fill="#f00"/>
<circle cx="161.4" cy="447.7" r="5" fill="#f00"/>
<circle cx="179.1" cy="455.4" r="5" fill="#f00"/>
<circle cx="196.8" cy="450.2" r="5" fill="#f00"/>
<circle cx="214.5" cy="429.7" r="5" fill="#f00"/>
<circle cx="232.2" cy="434" r="5" fill="#f00"/>
<circle cx="249.9" cy="449.3" r="5" fill="#f00"/>
<circle cx="267.6" cy="421.6" r="5" fill="#f00"/>
<circle cx="285.3" cy="443.8" r="5" fill="#f00"/>
<circle cx="303" cy="434.1" r="5" fill="#f00"/>
<circle cx="320.7" cy="416.5" r="5" fill="#f00"/>
<circle cx="338.4" cy="422.1" r="5" fill="#f00"/>
<circle cx="356.1" cy="417.3" r="5" fill="#f00"/>
<circle cx="373.4" cy="544.5" r="5" fill="#f00"/>
<polygon points="108.3,438.7 114.1,449.2 102.5,449.2" fill="#008000"/>
<polygon points="126,415.3 131.8,425.8 120.2,425.8" fill="#008000"/>
<polygon points="143.7,442.2 149.5,452.6 137.9,452.6" fill="#008000"/>
<polygon points="161.4,429.4 167.2,439.8 155.6,439.8" fill="#008000"/>
<polygon points="179.1,432.2 184.9,442.6 173.3,442.6" fill="#008000"/>
<polygon points="196.8,419.8 202.6,430.3 191,430.3" fill="#008000"/>
<polygon points="214.5,424.7 220.3,435.1 208.7,435.1" fill="#008000"/>
<polygon points="232.2,409.6 238,420 226.4,420" fill="#008000"/>
<polygon points="249.9,399.3 255.7,409.7 244.1,409.7" fill="#008000"/>
<polygon points="267.6,429.7 273.4,440.2 261.8,440.2" fill="#008000"/>
<polygon points="285.3,431.7 291.1,442.1 279.5,442.1" fill="#008000"/>
<polygon points="303,418 308.8,428.4 297.2,428.4" fill="#008000"/>
<polygon points="320.7,405.2 326.5,415.7 314.9,415.7" fill="#008000"/>
<polygon points="338.4,433 344.2,443.4 332.6,443.4" fill="#008000"/>
<polygon points="356.1,446.3 361.9,456.7 350.3,456.7" fill="#008000"/>
<polygon points="373.8,443.8 379.6,454.2 368,454.2" fill="#008000"/>
<polygon points="391.5,459.4 397.3,469.8 385.7,469.8" fill="#008000"/>
<polygon points="409.2,444.5 415,454.9 403.4,454.9" fill="#008000"/>
<polygon points="426.9,378.7 432.7,389.1 421.1,389.1" fill="#008000"/>
<polygon points="108.3,452.1 114.1,441.7 102.5,441.7" fill="#00f"/>
<polygon points="126,443.5 131.8,433.1 120.2,433.1" fill="#00f"/>
<polygon points="143.7,449.8 149.5,439.3 137.9,439.3" fill="#00f"/>
<polygon points="161.4,442.4 167.2,431.9 155.6,431.9" fill="#00f"/>
<polygon points="179.1,422.3 184.9,411.8 173.3,411.8" fill="#00f"/>
<polygon points="196.8,431 202.6,420.5 191,420.5" fill="#00f"/>
<polygon points="214.5,418.9 220.3,408.5 208.7,408.5" fill="#00f"/>
<polygon points="232.2,429.4 238,419 226.4,419" fill="#00f"/>
<polygon points="249.9,460.4 255.7,450 244.1,450" fill="#00f"/>
<polygon points="267.6,461 273.4,450.5 261.8,450.5" fill="#00f"/>
<polygon points="285.3,461.1 291.1,450.7 279.5,450.7" fill="#00f"/>
<polygon points="303,452.5 308.8,442 297.2,442" fill="#00f"/>
<polygon points="320.7,468.3 326.5,457.8 314.9,457.8" fill="#00f"/>
<polygon points="338.4,472.5 344.2,462.1 332.6,462.1" fill="#00f"/>
<polygon points="356.1,475.4 361.9,465 350.3,465" fill="#00f"/>
<polygon points="373.8,480 379.6,469.5 368,469.5" fill="#00f"/>
<polygon points="391.5,483.8 397.3,473.4 385.7,473.4" fill="#00f"/>
<polygon points="409.2,490.2 415,479.8 403.4,479.8" fill="#00f"/>
<polygon points="426.9,456.8 432.7,446.4 421.1,446.4" fill="#00f"/>
<polygon points="444.6,440.9 450.4,430.4 438.8,430.4" fill="#00f"/>
<polygon points="462.3,406.7 468.1,396.2 456.5,396.2" fill="#00f"/>
<polygon points="480,563.9 485.8,553.4 474.2,553.4" fill="#00f"/>
<polyline points="107.5,1177.5 122.5,1175 133.5,1170.5 141.8,1173.6 155.9,1169.7 165.8,1173.4 178.5,1170.2 186.9,1173.3 202.4,1169.3 211.8,1171.9 223.3,1168.8 235.9,1172.1 252.2,1169.5 258.8,1171.6 270.7,1167.7 283.1,1171.3 295.7,1167.6 305.3,1171.1 318.2,1166.8 330,1157 340,1162 350,1158 361,1152.2 370.3,1136.7 376.5,1135.2 385.8,1111.9 390.5,1122.7 401.4,1130.5 413.8,1139.8 423.1,1139.8 437,1143.5 447.9,1146 460.9,1149.1 469.6,1152.2 485.1,1147 492.9,1151.3 508.4,1135.2 516.2,1141.4 522.4,1125.8 531.7,1129 541,1113.4 547.2,1110.3 551.8,1094.8 556.5,1139.8 561.2,1160 567.4,1232.9 579.8,1236 590.6,1262.4 603,1278.5" fill="none" stroke="#000" stroke-width="1.6" stroke-linejoin="round" stroke-linecap="round" />
<polyline points="107.5,1177.5 115.6,1170.7 123.4,1174.6 130.3,1133.6 134.1,1162 140.9,1139 149.1,1170.2 157.1,1152.4 162.1,1128.8 168.4,1171.6 178.8,1184.1 184,1120 191.2,1170.5 200,1151.4 205.9,1159.3 213.5,1131.3 217.5,1170.8 225,1132 234.3,1175 240.7,1171.2 249.4,1147.9 256.1,1188.8 261.3,1144.9 268.4,1166.6 276.4,1130 283.7,1182.1 290.6,1127.5 296.3,1177.4 304.6,1138.7 312.2,1172.5 318.1,1147.1 325,1180.1 332.3,1145.3 339.6,1159.1 344.9,1115.7 353.3,1125.1 362.6,1105.7 367.2,1147.6 371.9,1263.9 376.5,1268.6" fill="none" stroke="#f00" stroke-width="1.6" stroke-linejoin="round" stroke-linecap="round" />
<polyline points="107.5,1177.5 113.3,1164.3 119,1188.4 127.4,1143.6 133.5,1190.2 141.8,1155.3 146.5,1194.7 152.3,1152.1 159.6,1194.3 164.4,1152.2 172.3,1189.6 180.3,1155.3 186.4,1140.1 191.8,1179.4 198.6,1139.5 206.1,1187.8 213.2,1155.1 219.8,1197.4 224.6,1136.4 231.9,1189.2 239.2,1149.7 242.2,1190 249,1136.1 257.7,1138.2 264.2,1190 268.4,1152.6 278.2,1200.6 281.3,1146.6 290.5,1197.4 296.3,1215.2 303,1170 310,1140 318,1190 326,1150 334,1180 342.4,1201.9 350,1150 358,1175 365.7,1211.2 371,1180 376.5,1215.8 383,1190 389,1187.9 395.2,1197.2 404.5,1169.3 413.8,1139.8 420,1110.3 423.1,1088.6 427.7,1147.6 433.9,1287.2 440,1297 446.4,1301.2" fill="none" stroke="#008000" stroke-width="1.6" stroke-linejoin="round" stroke-linecap="round" />
<polyline points="107.5,1178.5 114.8,1177.8 125.6,1179.5 135.5,1143 141.5,1186.2 152,1150.7 159.7,1171 168.1,1138.3 181.5,1148.9 191.1,1184.1 199.9,1179.2 206.5,1152.3 215.5,1174.3 222.5,1145.7 235.4,1172.7 242.8,1149.8 252.6,1171.9 257.9,1173.1 268.6,1145.3 277.7,1173.2 287.9,1142.2 297.2,1174.4 307.8,1179.9 313.5,1150.2 325,1173.5 330,1147.6 336,1170 342,1150 350,1185 356,1150 362,1175 370,1155 378,1180 385.8,1132 390.5,1174 404.5,1187.9 413.8,1194.1 420,1211.2 429.3,1163.1 437,1181.7 446.4,1160 454.1,1187.9 461.9,1160 471.2,1194.1 478.9,1163.1 485.1,1160 491.3,1197.2 499.1,1166.2 508.4,1197.2 514.6,1217.4 522.4,1187.9 533.2,1200.3 537.9,1172.4 547.2,1156.9 556.5,1108.8 561.2,1088.6 565.8,1147.6 570.5,1281 579.8,1299.6" fill="none" stroke="#00f" stroke-width="1.6" stroke-linejoin="round" stroke-linecap="round" />
<rect x="103.5" y="1172.9" width="9.1" height="9.1" fill="#555"/>
<rect x="127.1" y="1166.8" width="9.1" height="9.1" fill="#555"/>
<rect x="150.7" y="1165.3" width="9.1" height="9.1" fill="#555"/>
<rect x="174.3" y="1165.8" width="9.1" height="9.1" fill="#555"/>
<rect x="197.9" y="1164.7" width="9.1" height="9.1" fill="#555"/>
<rect x="221.5" y="1164.9" width="9.1" height="9.1" fill="#555"/>
<rect x="245.1" y="1165.3" width="9.1" height="9.1" fill="#555"/>
<rect x="268.7" y="1163.9" width="9.1" height="9.1" fill="#555"/>
<rect x="292.3" y="1163.4" width="9.1" height="9.1" fill="#555"/>
<rect x="315.9" y="1160.4" width="9.1" height="9.1" fill="#555"/>
<rect x="339.5" y="1155.9" width="9.1" height="9.1" fill="#555"/>
<rect x="363.1" y="1136.7" width="9.1" height="9.1" fill="#555"/>
<rect x="386.7" y="1118.7" width="9.1" height="9.1" fill="#555"/>
<rect x="410.3" y="1135.3" width="9.1" height="9.1" fill="#555"/>
<rect x="433.9" y="1139.3" width="9.1" height="9.1" fill="#555"/>
<rect x="457.5" y="1145" width="9.1" height="9.1" fill="#555"/>
<rect x="481.1" y="1142.7" width="9.1" height="9.1" fill="#555"/>
<rect x="504.7" y="1131.3" width="9.1" height="9.1" fill="#555"/>
<rect x="528.3" y="1122.6" width="9.1" height="9.1" fill="#555"/>
<rect x="551.9" y="1134.3" width="9.1" height="9.1" fill="#555"/>
<rect x="575.5" y="1232" width="9.1" height="9.1" fill="#555"/>
<rect x="599.1" y="1274" width="9.1" height="9.1" fill="#555"/>
<circle cx="108" cy="1177.1" r="5.4" fill="#f05858"/>
<circle cx="131.6" cy="1143.4" r="5.4" fill="#f05858"/>
<circle cx="155.2" cy="1156.7" r="5.4" fill="#f05858"/>
<circle cx="178.8" cy="1184.1" r="5.4" fill="#f05858"/>
<circle cx="202.4" cy="1154.6" r="5.4" fill="#f05858"/>
<circle cx="226" cy="1136.7" r="5.4" fill="#f05858"/>
<circle cx="249.6" cy="1148.9" r="5.4" fill="#f05858"/>
<circle cx="273.2" cy="1144.7" r="5.4" fill="#f05858"/>
<circle cx="296.8" cy="1175.2" r="5.4" fill="#f05858"/>
<circle cx="320.4" cy="1158.1" r="5.4" fill="#f05858"/>
<circle cx="344" cy="1122.7" r="5.4" fill="#f05858"/>
<circle cx="367.6" cy="1157.5" r="5.4" fill="#f05858"/>
<polygon points="108,1169.8 114.3,1181.1 101.7,1181.1" fill="#008000"/>
<polygon points="131.6,1169 137.9,1180.3 125.3,1180.3" fill="#008000"/>
<polygon points="155.2,1162.2 161.5,1173.5 148.9,1173.5" fill="#008000"/>
<polygon points="178.8,1155.2 185.1,1166.4 172.5,1166.4" fill="#008000"/>
<polygon points="202.4,1157.3 208.7,1168.6 196.1,1168.6" fill="#008000"/>
<polygon points="226,1139.8 232.3,1151.1 219.7,1151.1" fill="#008000"/>
<polygon points="249.6,1129.7 255.9,1141 243.3,1141" fill="#008000"/>
<polygon points="273.2,1169.6 279.5,1180.9 266.9,1180.9" fill="#008000"/>
<polygon points="296.8,1205.2 303.1,1216.5 290.5,1216.5" fill="#008000"/>
<polygon points="320.4,1171.4 326.7,1182.7 314.1,1182.7" fill="#008000"/>
<polygon points="344,1184.4 350.3,1195.7 337.7,1195.7" fill="#008000"/>
<polygon points="367.6,1193.4 373.9,1204.7 361.3,1204.7" fill="#008000"/>
<polygon points="391.2,1184.6 397.5,1195.9 384.9,1195.9" fill="#008000"/>
<polygon points="414.8,1128.5 421.1,1139.7 408.5,1139.7" fill="#008000"/>
<polygon points="433.9,1280.6 440.2,1291.9 427.6,1291.9" fill="#008000"/>
<polygon points="108,1185 114.3,1173.8 101.7,1173.8" fill="#00f"/>
<polygon points="131.6,1164 137.9,1152.8 125.3,1152.8" fill="#00f"/>
<polygon points="155.2,1165.7 161.5,1154.4 148.9,1154.4" fill="#00f"/>
<polygon points="178.8,1153.3 185.1,1142 172.5,1142" fill="#00f"/>
<polygon points="202.4,1175.7 208.7,1164.4 196.1,1164.4" fill="#00f"/>
<polygon points="226,1159.5 232.3,1148.3 219.7,1148.3" fill="#00f"/>
<polygon points="249.6,1171.7 255.9,1160.4 243.3,1160.4" fill="#00f"/>
<polygon points="273.2,1166.1 279.5,1154.8 266.9,1154.8" fill="#00f"/>
<polygon points="296.8,1179.6 303.1,1168.3 290.5,1168.3" fill="#00f"/>
<polygon points="320.4,1170.8 326.7,1159.5 314.1,1159.5" fill="#00f"/>
<polygon points="344,1165.3 350.3,1154.1 337.7,1154.1" fill="#00f"/>
<polygon points="367.6,1167.6 373.9,1156.3 361.3,1156.3" fill="#00f"/>
<polygon points="391.2,1181.3 397.5,1170 384.9,1170" fill="#00f"/>
<polygon points="414.8,1203.4 421.1,1192.2 408.5,1192.2" fill="#00f"/>
<polygon points="438.4,1185 444.7,1173.8 432.1,1173.8" fill="#00f"/>
<polygon points="462,1166.9 468.3,1155.7 455.7,1155.7" fill="#00f"/>
<polygon points="485.6,1169.6 491.9,1158.3 479.3,1158.3" fill="#00f"/>
<polygon points="509.2,1206.4 515.5,1195.1 502.9,1195.1" fill="#00f"/>
<polygon points="532.8,1206.4 539.1,1195.1 526.5,1195.1" fill="#00f"/>
<polygon points="556.4,1115.9 562.7,1104.6 550.1,1104.6" fill="#00f"/>
<polygon points="580,1306.2 586.3,1294.9 573.7,1294.9" fill="#00f"/>
<polyline points="107.4,1888 127.3,1887.5 148,1887 167.8,1887.5 188.5,1887 208.4,1887.5 229.1,1887 249.7,1886.5 256.6,1876.3 263.2,1891.1 269.9,1882.9 283.1,1882.9 296.3,1881.2 304.6,1874.6 312,1869.6 317.8,1858.1 324.5,1820 330.2,1840.7 336,1868 342.7,1872.9 349.3,1855.6 357.5,1839.9 364.2,1850.6 370.8,1844.8 379.1,1853.1 390.6,1858.1 398.9,1860.5 408,1863.8 411.2,1865.2 422.1,1863.6 431.4,1865.2 442.2,1871.4 451.5,1874.5 462.4,1872.9 471.7,1876.9 481,1869.8 491.9,1868.3 502.7,1862.1 512,1854.3 519.8,1855.8 527.5,1826.4 532.2,1815.5 536.9,1880.7 540,1921 552.4,1938.1 561.7,1944.3 572.5,1945.2 583.4,1942.7 593.3,1942.1 608.2,1945.2" fill="none" stroke="#000" stroke-width="2.1" stroke-linejoin="round" stroke-linecap="round" />
<polyline points="107.4,1891.1 121.5,1886.2 127.3,1863.8 133.1,1884.5 141.4,1897 148,1883.7 162,1859.7 167.8,1882.9 176.1,1889.5 188.5,1871.3 199.3,1889.5 207.5,1869.6 215.8,1887.8 227.4,1884.5 235.7,1850.6 242.3,1885.4 249.7,1870.5 256.6,1851.4 263.2,1876.3 269.9,1848.1 278.1,1868 283.9,1864.7 289.7,1837.4 302.9,1884.5 310.4,1878.7 317,1828.3 324.5,1886.2 331.1,1887.8 349.3,1878.7 357.5,1896.1 365.8,1864.7 370.8,1872.9 379.1,1881.2 390.6,1882.9 398.9,1897.8 408,1911.8 411.2,1911.7 420,1895 431.4,1882.2 439.1,1860.5 451.5,1983.1 471.7,1985.5" fill="none" stroke="#f00" stroke-width="2.1" stroke-linejoin="round" stroke-linecap="round" />
<polyline points="107.4,1892.8 114.9,1891.1 127.3,1881.2 134.7,1878.7 141.4,1887.8 148,1863.8 162,1906.9 167.8,1883.7 181.9,1856.4 188.5,1894.5 199.3,1881.2 208.4,1894.5 215.8,1848.1 228.2,1894.5 237.3,1858.1 249.7,1889.5 256.6,1912.7 269.9,1869.6 276.5,1891.1 283.1,1884.5 289.7,1908.5 298,1886.2 310.4,1901.1 319.5,1896.1 330.2,1874.6 337.7,1884.5 344.3,1914.3 350.9,1882.9 357.5,1846.5 365.8,1906 372.4,1904.4 384,1863 390.6,1886.2 398,1925 406.4,1890 411.2,1890 421,1870 431.4,1883.8 441,1895 451.5,1888.4 461,1880 471.7,1883.8 481,1878 491.9,1868.3 499.6,1851.2 512,1955.1" fill="none" stroke="#008000" stroke-width="2.1" stroke-linejoin="round" stroke-linecap="round" />
<polyline points="107.4,1891.1 114.9,1887 127.3,1887.8 141.4,1901.1 148,1891.1 156.3,1894.5 167.8,1893.6 175.3,1896.9 188.5,1871.3 195.1,1843.2 202.6,1897.8 208.4,1877.1 215.8,1853.1 229.1,1864.7 242.3,1858.9 249.7,1896.1 262.4,1839.9 269.9,1901.1 276.5,1868 283.1,1897.8 289.7,1877.1 296.3,1879.6 303.8,1887.8 310.4,1854.7 317,1844.8 324.5,1886.2 331.1,1896.1 336,1868 344.3,1899.4 350.9,1858.1 357.5,1892.8 364.2,1917.6 370.8,1889.5 377.4,1874.6 384,1916 390.6,1891.1 398.9,1872.9 404.7,1869.6 411.2,1897.7 420,1872 431.4,1862.1 440.7,1902.4 451.5,1913.2 459.3,1872.9 471.7,1905.5 481,1879.1 491.9,1907 499.6,1925.7 512,1899.3 526,1908.6 532.2,1883.8 552.4,1857.4 566.3,1804.7 572.5,1896.2 580.3,1986.2 593.3,2004.8 614.4,2009.4" fill="none" stroke="#00f" stroke-width="2.1" stroke-linejoin="round" stroke-linecap="round" />
<rect x="103.2" y="1883.8" width="8.4" height="8.4" fill="#000"/>
<rect x="123.4" y="1883.3" width="8.4" height="8.4" fill="#000"/>
<rect x="143.6" y="1882.8" width="8.4" height="8.4" fill="#000"/>
<rect x="163.8" y="1883.3" width="8.4" height="8.4" fill="#000"/>
<rect x="184" y="1882.8" width="8.4" height="8.4" fill="#000"/>
<rect x="204.2" y="1883.3" width="8.4" height="8.4" fill="#000"/>
<rect x="224.4" y="1882.8" width="8.4" height="8.4" fill="#000"/>
<rect x="244.6" y="1882.3" width="8.4" height="8.4" fill="#000"/>
<rect x="264.8" y="1879.8" width="8.4" height="8.4" fill="#000"/>
<rect x="285" y="1877.9" width="8.4" height="8.4" fill="#000"/>
<rect x="305.2" y="1867.2" width="8.4" height="8.4" fill="#000"/>
<rect x="325.4" y="1834.3" width="8.4" height="8.4" fill="#000"/>
<rect x="345.6" y="1850.4" width="8.4" height="8.4" fill="#000"/>
<rect x="365.8" y="1841.3" width="8.4" height="8.4" fill="#000"/>
<rect x="386" y="1853.7" width="8.4" height="8.4" fill="#000"/>
<rect x="406.2" y="1860.6" width="8.4" height="8.4" fill="#000"/>
<rect x="426.4" y="1860.9" width="8.4" height="8.4" fill="#000"/>
<rect x="446.6" y="1870.1" width="8.4" height="8.4" fill="#000"/>
<rect x="466.8" y="1872.4" width="8.4" height="8.4" fill="#000"/>
<rect x="487" y="1864.2" width="8.4" height="8.4" fill="#000"/>
<rect x="507.2" y="1850.6" width="8.4" height="8.4" fill="#000"/>
<rect x="527.4" y="1812.7" width="8.4" height="8.4" fill="#000"/>
<rect x="547.6" y="1933.1" width="8.4" height="8.4" fill="#000"/>
<rect x="567.8" y="1941" width="8.4" height="8.4" fill="#000"/>
<rect x="588" y="1938" width="8.4" height="8.4" fill="#000"/>
<circle cx="107.4" cy="1891.1" r="5" fill="#f00"/>
<circle cx="127.6" cy="1864.9" r="5" fill="#f00"/>
<circle cx="147.8" cy="1884.1" r="5" fill="#f00"/>
<circle cx="168" cy="1883.1" r="5" fill="#f00"/>
<circle cx="188.2" cy="1871.7" r="5" fill="#f00"/>
<circle cx="208.4" cy="1871.6" r="5" fill="#f00"/>
<circle cx="228.6" cy="1879.6" r="5" fill="#f00"/>
<circle cx="248.8" cy="1872.3" r="5" fill="#f00"/>
<circle cx="269" cy="1851.9" r="5" fill="#f00"/>
<circle cx="289.2" cy="1839.8" r="5" fill="#f00"/>
<circle cx="309.4" cy="1879.5" r="5" fill="#f00"/>
<circle cx="329.6" cy="1887.4" r="5" fill="#f00"/>
<circle cx="349.8" cy="1879.8" r="5" fill="#f00"/>
<circle cx="370" cy="1871.6" r="5" fill="#f00"/>
<circle cx="390.2" cy="1882.8" r="5" fill="#f00"/>
<circle cx="410.4" cy="1911.7" r="5" fill="#f00"/>
<circle cx="430.6" cy="1883.1" r="5" fill="#f00"/>
<circle cx="450.8" cy="1976.2" r="5" fill="#f00"/>
<circle cx="471" cy="1985.4" r="5" fill="#f00"/>
<polygon points="107.4,1886.7 113.2,1897.1 101.6,1897.1" fill="#008000"/>
<polygon points="127.6,1875 133.4,1885.4 121.8,1885.4" fill="#008000"/>
<polygon points="147.8,1858.4 153.6,1868.9 142,1868.9" fill="#008000"/>
<polygon points="168,1877.2 173.8,1887.7 162.2,1887.7" fill="#008000"/>
<polygon points="188.2,1886.7 194,1897.1 182.4,1897.1" fill="#008000"/>
<polygon points="208.4,1888.4 214.2,1898.8 202.6,1898.8" fill="#008000"/>
<polygon points="228.6,1886.8 234.4,1897.2 222.8,1897.2" fill="#008000"/>
<polygon points="248.8,1881.1 254.6,1891.6 243,1891.6" fill="#008000"/>
<polygon points="269,1866.4 274.8,1876.9 263.2,1876.9" fill="#008000"/>
<polygon points="289.2,1900.6 295,1911 283.4,1911" fill="#008000"/>
<polygon points="309.4,1893.8 315.2,1904.2 303.6,1904.2" fill="#008000"/>
<polygon points="329.6,1869.7 335.4,1880.2 323.8,1880.2" fill="#008000"/>
<polygon points="349.8,1882 355.6,1892.5 344,1892.5" fill="#008000"/>
<polygon points="370,1898.9 375.8,1909.3 364.2,1909.3" fill="#008000"/>
<polygon points="390.2,1878.7 396,1889.1 384.4,1889.1" fill="#008000"/>
<polygon points="410.4,1883.9 416.2,1894.3 404.6,1894.3" fill="#008000"/>
<polygon points="430.6,1876.6 436.4,1887.1 424.8,1887.1" fill="#008000"/>
<polygon points="450.8,1882.8 456.6,1893.2 445,1893.2" fill="#008000"/>
<polygon points="471,1877.5 476.8,1887.9 465.2,1887.9" fill="#008000"/>
<polygon points="491.2,1862.8 497,1873.3 485.4,1873.3" fill="#008000"/>
<polygon points="511.4,1944 517.2,1954.4 505.6,1954.4" fill="#008000"/>
<polygon points="107.4,1897.2 113.2,1886.8 101.6,1886.8" fill="#00f"/>
<polygon points="127.6,1894.2 133.4,1883.7 121.8,1883.7" fill="#00f"/>
<polygon points="147.8,1897.5 153.6,1887.1 142,1887.1" fill="#00f"/>
<polygon points="168,1899.8 173.8,1889.3 162.2,1889.3" fill="#00f"/>
<polygon points="188.2,1878 194,1867.5 182.4,1867.5" fill="#00f"/>
<polygon points="208.4,1883.2 214.2,1872.8 202.6,1872.8" fill="#00f"/>
<polygon points="228.6,1870.4 234.4,1859.9 222.8,1859.9" fill="#00f"/>
<polygon points="248.8,1897.7 254.6,1887.2 243,1887.2" fill="#00f"/>
<polygon points="269,1899.8 274.8,1889.4 263.2,1889.4" fill="#00f"/>
<polygon points="289.2,1884.8 295,1874.3 283.4,1874.3" fill="#00f"/>
<polygon points="309.4,1865.8 315.2,1855.4 303.6,1855.4" fill="#00f"/>
<polygon points="329.6,1899.9 335.4,1889.5 323.8,1889.5" fill="#00f"/>
<polygon points="349.8,1871.1 355.6,1860.6 344,1860.6" fill="#00f"/>
<polygon points="370,1899 375.8,1888.6 364.2,1888.6" fill="#00f"/>
<polygon points="390.2,1898.7 396,1888.3 384.4,1888.3" fill="#00f"/>
<polygon points="410.4,1900.3 416.2,1889.9 404.6,1889.9" fill="#00f"/>
<polygon points="430.6,1868.9 436.4,1858.4 424.8,1858.4" fill="#00f"/>
<polygon points="450.8,1918.6 456.6,1908.2 445,1908.2" fill="#00f"/>
<polygon points="471,1909.7 476.8,1899.3 465.2,1899.3" fill="#00f"/>
<polygon points="491.2,1911.3 497,1900.9 485.4,1900.9" fill="#00f"/>
<polygon points="511.4,1906.7 517.2,1896.2 505.6,1896.2" fill="#00f"/>
<polygon points="531.6,1892.3 537.4,1881.9 525.8,1881.9" fill="#00f"/>
<polygon points="551.8,1864.3 557.6,1853.8 546,1853.8" fill="#00f"/>
<polygon points="572,1894.9 577.8,1884.5 566.2,1884.5" fill="#00f"/>
<polygon points="592.2,2009.3 598,1998.9 586.4,1998.9" fill="#00f"/>
<polygon points="612.4,2015.1 618.2,2004.6 606.6,2004.6" fill="#00f"/>
<path d="M587.3 203.3H602.5" stroke="#000" stroke-width="4.0"/>
<polygon points="600.5,196.5 625,203.3 600.5,210.1" fill="#000"/>
<path d="M295.9 366.8H276" stroke="#000" stroke-width="3.2"/>
<polygon points="278,360.2 254,366.8 278,373.4" fill="#000"/>
<path d="M625.1 927.5H651.5" stroke="#000" stroke-width="3.6"/>
<polygon points="649.5,920.5 673.5,927.5 649.5,934.5" fill="#000"/>
<path d="M295.5 1245.3H263.7" stroke="#000" stroke-width="3.6"/>
<polygon points="265.7,1238.5 241.2,1245.3 265.7,1252.1" fill="#000"/>
<path d="M681.7 1523.4H714.5" stroke="#000" stroke-width="3.8"/>
<polygon points="712.5,1516.8 735.5,1523.4 712.5,1530" fill="#000"/>
<path d="M262.9 1944.3H221.8" stroke="#000" stroke-width="3.6"/>
<polygon points="223.8,1937.7 199.3,1944.3 223.8,1950.9" fill="#000"/>
<text transform="translate(377.5 318.7) scale(1.0 1)" font-size="31">T<tspan font-size="17" dx="0.5">amb</tspan><tspan dx="4">= 923 K</tspan></text>
<text transform="translate(582.3 1041.2) scale(1.0 1)" font-size="31">T<tspan font-size="17" dx="0.5">amb</tspan><tspan dx="4">= 973 K</tspan></text>
<text transform="translate(175 1593.4) scale(0.964 1)" font-size="31">T<tspan font-size="17" dx="-1">amb</tspan><tspan dx="4">= 1023 K</tspan></text>
<line x1="111.6" y1="445.7" x2="149.6" y2="479.4" stroke="#ec9a48" stroke-width="1.6"/>
<rect x="149.2" y="479.8" width="88.6" height="88.2" fill="url(#gg)" stroke="#ec9a48" stroke-width="1.6"/>
<path d="M150.1 495.5 C153 505 162 512 176 516.5 M202.5 515 C215 513 228 512 237.6 507.5" fill="none" stroke="#262830" stroke-width="2.6"/>
<path d="M174.6 516 C177 512.5 184 511.6 189 511.6 C195 511.6 201 512.5 203.6 515.5 C204.5 531 197 537.9 189 537.9 C181 537.9 173.5 531 174.6 516Z" fill="#24262d"/>
<circle cx="203" cy="550" r="0" fill="none"/>
<circle cx="111.6" cy="445.7" r="4.4" fill="#f28c1e"/>
<line x1="635.8" y1="274.2" x2="691.5" y2="313.8" stroke="#ec9a48" stroke-width="1.6"/>
<rect x="691.7" y="226.4" width="89" height="87.6" fill="url(#pr)" stroke="#ec9a48" stroke-width="1.8"/>
<path d="M692.5 246.3 C698 256 705 264 714 267.5 M757.5 268.2 C765 267 772 266 778.5 262.5" fill="none" stroke="#6c444a" stroke-width="2"/>
<path d="M714 266 C714 254 724 246.8 736 246.8 C748 246.8 758 254 758 266 C758 279 751 288 743 289.5 C738 290.3 732 290.3 728 289.5 C720 287.5 714 279 714 266Z" fill="#8e5f62"/>
<circle cx="635.8" cy="274.2" r="4.4" fill="#f28c1e"/>
<line x1="650.2" y1="552.9" x2="674.2" y2="537.2" stroke="#ec9a48" stroke-width="1.6"/>
<rect x="674.4" y="449.2" width="88.4" height="87.8" fill="url(#gg)" stroke="#ec9a48" stroke-width="1.6"/>
<path d="M675.3 469.5 C678 478 684 483.5 692 486 C697 487.5 702 488.5 707 489.6" fill="none" stroke="#2e3037" stroke-width="3"/>
<path d="M718 489.8 C728 488 745 486 761.7 482.3" fill="none" stroke="#33353c" stroke-width="2.5"/>
<path d="M682.7 450.2 L681.1 469.3" stroke="#4a4c54" stroke-width="1.4"/>
<ellipse cx="712.9" cy="491.3" rx="6.8" ry="5.9" fill="#262830"/>
<circle cx="650.2" cy="552.9" r="4.4" fill="#f28c1e"/>
<line x1="136.4" y1="1027.8" x2="325.3" y2="952.8" stroke="#cc44dd" stroke-width="1.3" stroke-dasharray="1.3 1.5" opacity="0.85"/>
<line x1="136.4" y1="1030.1" x2="389" y2="943.4" stroke="#cc44dd" stroke-width="1.3" stroke-dasharray="1.3 1.5" opacity="0.85"/>
<line x1="136.4" y1="1032.4" x2="439.6" y2="953.6" stroke="#cc44dd" stroke-width="1.3" stroke-dasharray="1.3 1.5" opacity="0.85"/>
<line x1="136.4" y1="1033.5" x2="503.3" y2="950.7" stroke="#cc44dd" stroke-width="1.3" stroke-dasharray="1.3 1.5" opacity="0.85"/>
<text transform="translate(277.5 965.1) rotate(-18.4) scale(0.9 1)" font-size="17" fill="#222">k<tspan font-size="12" dy="4">10</tspan><tspan dy="-4">=189.1</tspan></text>
<text transform="translate(345.5 950.7) rotate(-20) scale(0.9 1)" font-size="17" fill="#222">k<tspan font-size="12" dy="4">20</tspan><tspan dy="-4">=169</tspan></text>
<text transform="translate(404.9 955) rotate(-18) scale(0.9 1)" font-size="17" fill="#222">k<tspan font-size="12" dy="4">0</tspan><tspan dy="-4">=110</tspan></text>
<text transform="translate(462.8 949.2) rotate(-17) scale(0.9 1)" font-size="17" fill="#222">k<tspan font-size="12" dy="4">30</tspan><tspan dy="-4">=98</tspan></text>
<line x1="464.8" y1="1669.9" x2="525.6" y2="1669.9" stroke="#000" stroke-width="2"/>
<rect x="491.2" y="1666.1" width="7.6" height="7.6" fill="#000"/>
<line x1="610" y1="1669.9" x2="669.8" y2="1669.9" stroke="#000" stroke-width="2.6"/>
<text x="531.2" y="1678.4" font-size="26.3" text-anchor="start" >HFO</text>
<text x="675.5" y="1678.4" font-size="26.3" text-anchor="start" >HFO</text>
<line x1="464.8" y1="1703.1" x2="525.6" y2="1703.1" stroke="#f00" stroke-width="2"/>
<circle cx="495" cy="1703.1" r="4.5" fill="#f00"/>
<line x1="610" y1="1703.1" x2="669.8" y2="1703.1" stroke="#f00" stroke-width="2.6"/>
<text x="531.2" y="1711.3" font-size="26.3" text-anchor="start" >HM10</text>
<text x="675.5" y="1711.3" font-size="26.3" text-anchor="start" >HM10</text>
<line x1="464.8" y1="1735.2" x2="525.6" y2="1735.2" stroke="#008000" stroke-width="2"/>
<polygon points="495,1729.7 500.2,1739.1 489.8,1739.1" fill="#008000"/>
<line x1="610" y1="1735.2" x2="669.8" y2="1735.2" stroke="#008000" stroke-width="2.6"/>
<text x="531.2" y="1743.9" font-size="26.3" text-anchor="start" >HM20</text>
<text x="675.5" y="1743.9" font-size="26.3" text-anchor="start" >HM20</text>
<line x1="464.8" y1="1768.3" x2="525.6" y2="1768.3" stroke="#00f" stroke-width="2"/>
<polygon points="495,1773.8 500.2,1764.4 489.8,1764.4" fill="#00f"/>
<line x1="610" y1="1768.3" x2="669.8" y2="1768.3" stroke="#00f" stroke-width="2.6"/>
<text x="531.2" y="1776.7" font-size="26.3" text-anchor="start" >HM30</text>
<text x="675.5" y="1776.7" font-size="26.3" text-anchor="start" >HM30</text>
</svg>
</body></html>
